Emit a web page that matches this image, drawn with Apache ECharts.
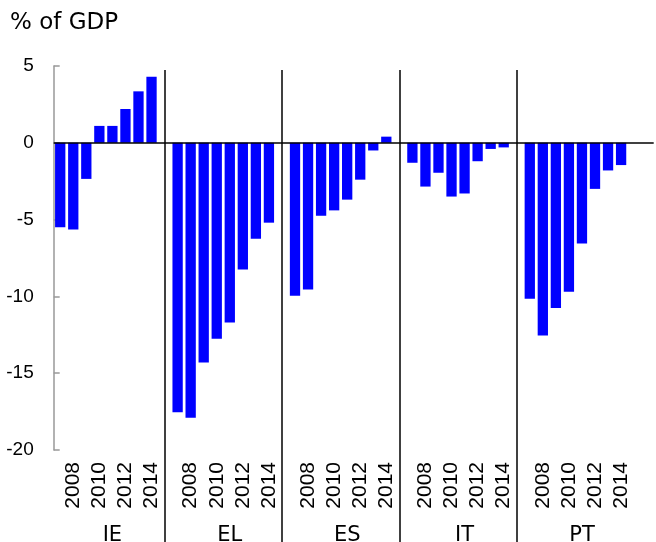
<!DOCTYPE html>
<html>
<head>
<meta charset="utf-8">
<script src="https://cdn.jsdelivr.net/npm/echarts@6/dist/echarts.min.js"></script>
<style>
  html, body { margin: 0; padding: 0; background: #fff; }
  #main { width: 656px; height: 542px; }
</style>
</head>
<body>
<div id="main"></div>
<script>
// 年份与国家
var years = ['2007', '2008', '2009', '2010', '2011', '2012', '2013', '2014'];
var countries = ['IE', 'EL', 'ES', 'IT', 'PT'];

// 各国数值 (% of GDP)
var ie = [-5.5, -5.65, -2.35, 1.1, 1.1, 2.2, 3.35, 4.3];
var el = [-17.55, -17.9, -14.3, -12.75, -11.7, -8.25, -6.25, -5.2];
var es = [-9.95, -9.55, -4.75, -4.4, -3.7, -2.4, -0.5, 0.4];
var it = [-1.3, -2.85, -1.95, -3.5, -3.3, -1.2, -0.4, -0.3];
var pt = [-10.15, -12.55, -10.75, -9.7, -6.55, -3.0, -1.8, -1.45];

// y轴刻度
var yMin = -20, yMax = 5, yStep = 5;

var byCountry = { IE: ie, EL: el, ES: es, IT: it, PT: pt };

// 拼成一条类目轴：每个国家8年 + 一个空位
var cats = [];
var values = [];
var gaps = [];
countries.forEach(function (c) {
  years.forEach(function (y, i) {
    cats.push(c + '|' + y);
    values.push(byCountry[c][i]);
  });
  cats.push('gap|' + c);
  values.push('-');
  if (c !== 'PT') gaps.push('gap|' + c);
});
cats.push('gap|end');
values.push('-');

var myChart = echarts.init(document.getElementById('main'));

var gridLeft = 53.7, gridRight = 2.3;

var option = {
  animation: false,
  title: {
    text: '% of GDP',
    left: 5,
    top: 7,
    textStyle: { fontFamily: 'DejaVu Sans', fontSize: 23, fontWeight: 'normal', color: '#000' }
  },
  grid: [
    { left: gridLeft, right: gridRight, top: 66, bottom: 92, outerBoundsMode: 'none' },
    { left: gridLeft, right: gridRight, top: 70, bottom: 0, outerBoundsMode: 'none' }
  ],
  xAxis: [
    {
      type: 'category', gridIndex: 0, data: cats,
      axisLine: { show: false }, axisTick: { show: false },
      axisLabel: {
        interval: 0, rotate: 90, margin: 12,
        fontFamily: 'Liberation Sans', fontSize: 21, color: '#000',
        formatter: function (v) {
          var p = v.split('|');
          if (p[0] === 'gap') return '';
          return (+p[1]) % 2 === 0 ? p[1] : '';
        }
      }
    },
    {
      type: 'category', gridIndex: 0, data: cats, position: 'bottom',
      axisLine: { show: false }, axisTick: { show: false },
      axisLabel: {
        interval: 0, margin: 75,
        fontFamily: 'DejaVu Sans', fontSize: 21, color: '#000',
        formatter: function (v) {
          var p = v.split('|');
          if (p[0] === 'gap') return '';
          return p[1] === years[4] ? p[0] : '';
        }
      }
    },
    {
      type: 'category', gridIndex: 1, data: cats,
      axisLine: { show: false }, axisTick: { show: false }, axisLabel: { show: false }
    }
  ],
  yAxis: [
    {
      type: 'value', gridIndex: 0, min: yMin, max: yMax, interval: yStep,
      axisLine: { show: true, lineStyle: { color: '#999', width: 1.5 } },
      axisTick: { show: true, inside: true, length: 6, lineStyle: { color: '#999', width: 1.5 } },
      axisLabel: { margin: 20, fontFamily: 'Liberation Sans', fontSize: 19, color: '#000' },
      splitLine: { show: false }
    },
    {
      type: 'value', gridIndex: 1, min: 0, max: 1, show: false
    }
  ],
  series: [
    {
      type: 'bar',
      xAxisIndex: 0, yAxisIndex: 0,
      data: values,
      barCategoryGap: '21%',
      itemStyle: { color: '#0000ff' },
      markLine: {
        silent: true, symbol: ['none', 'none'], label: { show: false },
        lineStyle: { color: '#000', width: 1.5, type: 'solid' },
        data: [{ yAxis: 0 }]
      }
    },
    {
      // 国家之间的分隔线
      type: 'line',
      xAxisIndex: 2, yAxisIndex: 1,
      data: [],
      markLine: {
        silent: true, symbol: ['none', 'none'], label: { show: false },
        lineStyle: { color: '#000', width: 1.5, type: 'solid' },
        data: gaps.map(function (g) { return { xAxis: g }; })
      }
    }
  ]
};

myChart.setOption(option);
</script>
</body>
</html>
